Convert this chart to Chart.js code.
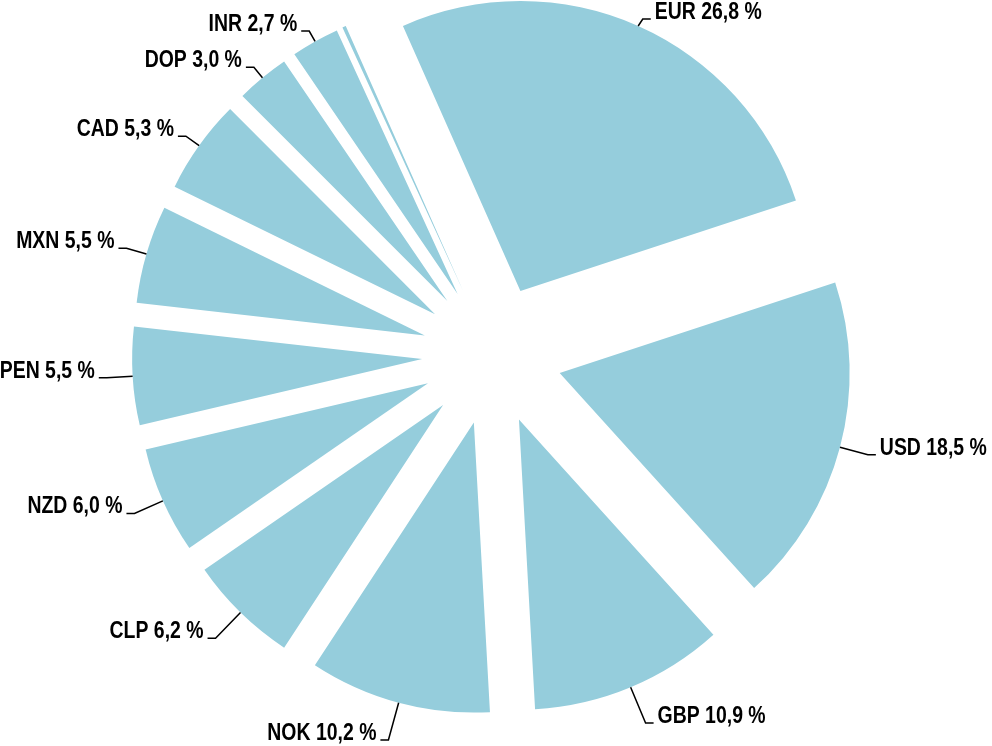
<!DOCTYPE html>
<html lang="en">
<head>
    <meta charset="UTF-8">
    <title>Currency share</title>
    <script src="https://cdn.jsdelivr.net/npm/chart.js@4.4.0/dist/chart.umd.min.js"></script>
    <style>
        body { margin: 0; background: #fff; }
        #wrap { width: 992px; height: 746px; position: relative; }
    </style>
</head>
<body>
    <div id="wrap"><canvas id="chart"></canvas></div>
    <script>
    const currencies = ['EUR', 'USD', 'GBP', 'NOK', 'CLP', 'NZD', 'PEN', 'MXN', 'CAD', 'DOP', 'INR', 'Other'];
    const shares = [26.8, 18.5, 10.9, 10.2, 6.2, 6.0, 5.5, 5.5, 5.3, 3.0, 2.7, 0.2];

    const sliceColor = '#95cddc';
    const explode = 70;      // how far each slice is pulled out
    // no narrow font installed, so squeeze a bold sans horizontally
    const labelFont = 'bold 24px "Liberation Sans", Arial, sans-serif';
    const squeeze = 0.81;

    function fmt(v) {
        return v.toFixed(1).replace('.', ',') + ' %';
    }

    // pull each slice out along its bisector
    const explodePlugin = {
        id: 'explode',
        beforeDatasetsDraw(chart) {
            const area = chart.chartArea;
            const cx = (area.left + area.right) / 2;
            const cy = (area.top + area.bottom) / 2;
            chart.getDatasetMeta(0).data.forEach(arc => {
                const mid = (arc.startAngle + arc.endAngle) / 2;
                arc.x = cx + explode * Math.cos(mid);
                arc.y = cy + explode * Math.sin(mid);
            });
        }
    };

    // outside labels with leader lines
    const labelPlugin = {
        id: 'outLabels',
        afterDatasetsDraw(chart) {
            const ctx = chart.ctx;
            const meta = chart.getDatasetMeta(0);
            ctx.save();
            ctx.font = labelFont;
            ctx.strokeStyle = '#000';
            ctx.lineWidth = 1.5;
            ctx.fillStyle = '#000';
            ctx.textBaseline = 'alphabetic';
            meta.data.forEach((arc, i) => {
                if (shares[i] < 1) return;
                const mid = (arc.startAngle + arc.endAngle) / 2;
                const c = Math.cos(mid), s = Math.sin(mid);
                const r = arc.outerRadius;
                const ext = 25 + 15 * s;   // lower labels sit further out
                const ax = arc.x + r * c, ay = arc.y + r * s;
                let ex = arc.x + (r + ext) * c;
                let ey = arc.y + (r + ext) * s;
                ey = Math.min(Math.max(ey, 19), 740);
                const right = c >= 0;
                const hx = ex + (right ? 8 : -8);
                ctx.beginPath();
                ctx.moveTo(ax, ay);
                ctx.lineTo(ex, ey);
                ctx.lineTo(hx, ey);
                ctx.stroke();
                ctx.save();
                ctx.translate(hx + (right ? 4 : -4), ey);
                ctx.scale(squeeze, 1);
                ctx.textAlign = right ? 'left' : 'right';
                ctx.fillText(currencies[i] + ' ' + fmt(shares[i]), 0, 0);
                ctx.restore();
            });
            ctx.restore();
        }
    };

    const ctx = document.getElementById('chart').getContext('2d');
    const myChart = new Chart(ctx, {
        type: 'pie',
        data: {
            labels: currencies,
            datasets: [{
                data: shares,
                backgroundColor: sliceColor,
                borderWidth: 0
            }]
        },
        options: {
            responsive: true,
            maintainAspectRatio: false,
            animation: false,
            radius: 290,
            rotation: -23.9,
            layout: { padding: { left: 0, right: 8, top: 0, bottom: 36 } },
            plugins: {
                legend: { display: false },
                tooltip: { enabled: false }
            }
        },
        plugins: [explodePlugin, labelPlugin]
    });
    </script>
</body>
</html>
